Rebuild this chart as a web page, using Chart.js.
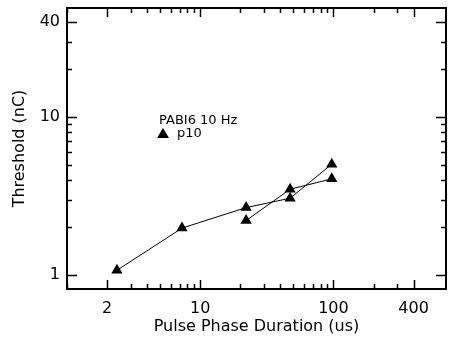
<!DOCTYPE html>
<html>
<head>
<meta charset="utf-8">
<script src="https://cdn.jsdelivr.net/npm/chart.js@4"></script>
<style>
  html, body { margin: 0; padding: 0; background: #fff; overflow: hidden; }
  #wrap { width: 449px; height: 339px; }
  canvas { display: block; }
</style>
</head>
<body>
<div id="wrap"><canvas id="chart" width="449" height="339"></canvas></div>
<script>
// values (log-log plot)
const upperX = [2.37, 7.3, 22.1, 47.3, 97.2];
const upperY = [1.07, 1.98, 2.67, 3.06, 5.03];
const lowerX = [22.1, 47.3, 97.2];
const lowerY = [2.21, 3.49, 4.06];

const xTicks = [1, 2, 3, 4, 5, 6, 7, 8, 9, 10, 20, 30, 40, 50, 60, 70, 80, 90, 100, 200, 300, 400];
const xMajor = [2, 10, 100, 400];
const yTicks = [1, 2, 3, 4, 5, 6, 7, 8, 9, 10, 20, 30, 40];
const yMajor = [1, 10, 40];

const legendTitle = 'PABI6 10 Hz';
const legendLabel = 'p10';

const FONT = '"DejaVu Sans", sans-serif';

function toPoints(xs, ys) {
    return xs.map((x, i) => ({ x, y: ys[i] }));
}

// no extra room for overflowing tick labels, the layout padding decides
function noOverflow(s) {
    s.paddingTop = 0;
    s.paddingBottom = 0;
    s.paddingLeft = 0;
    s.paddingRight = 0;
}

// frame + inward ticks on all four sides, plus the little legend
const framePlugin = {
    id: 'frame',
    afterDraw(chart) {
        const { ctx, chartArea: a, scales } = chart;
        ctx.save();
        ctx.strokeStyle = '#000';

        ctx.lineWidth = 1.5;
        xTicks.forEach(v => {
            const px = Math.round(scales.x.getPixelForValue(v)) + 0.5;
            const len = xMajor.includes(v) ? 9 : 5;
            ctx.beginPath();
            ctx.moveTo(px, a.bottom); ctx.lineTo(px, a.bottom - len);
            ctx.moveTo(px, a.top); ctx.lineTo(px, a.top + len);
            ctx.stroke();
        });
        yTicks.forEach(v => {
            const py = Math.round(scales.y.getPixelForValue(v)) + 0.5;
            const len = yMajor.includes(v) ? 10 : 5;
            ctx.beginPath();
            ctx.moveTo(a.left, py); ctx.lineTo(a.left + len, py);
            ctx.moveTo(a.right, py); ctx.lineTo(a.right - len, py);
            ctx.stroke();
        });

        ctx.lineWidth = 2;
        ctx.strokeRect(a.left, a.top, a.right - a.left, a.bottom - a.top);

        // legend block
        ctx.fillStyle = '#000';
        ctx.font = '13px ' + FONT;
        ctx.textBaseline = 'middle';
        ctx.textAlign = 'left';
        ctx.fillText(legendTitle, a.left + 92, a.top + 113);
        ctx.fillText(legendLabel, a.left + 110, a.top + 126);
        const tx = a.left + 96, ty = a.top + 126;
        ctx.beginPath();
        ctx.moveTo(tx, ty - 6);
        ctx.lineTo(tx + 6, ty + 4);
        ctx.lineTo(tx - 6, ty + 4);
        ctx.closePath();
        ctx.fill();
        ctx.restore();
    }
};

const lineStyle = {
    borderColor: '#000',
    backgroundColor: '#000',
    borderWidth: 1,
    pointStyle: 'triangle',
    pointRadius: 6.5,
    pointBorderWidth: 0,
    pointBackgroundColor: '#000',
    tension: 0,
    fill: false,
};

new Chart(document.getElementById('chart'), {
    type: 'line',
    data: {
        datasets: [
            { label: legendLabel, data: toPoints(upperX, upperY), ...lineStyle },
            { label: legendLabel + ' b', data: toPoints(lowerX, lowerY), ...lineStyle },
        ],
    },
    options: {
        responsive: false,
        animation: false,
        layout: { autoPadding: false, padding: { left: 0, top: 8, right: 3, bottom: 0 } },
        plugins: { legend: { display: false }, tooltip: { enabled: false } },
        scales: {
            x: {
                type: 'logarithmic',
                min: 1,
                max: 700,
                grid: { display: false, drawTicks: false },
                border: { display: false },
                afterBuildTicks: s => { s.ticks = xTicks.map(v => ({ value: v })); },
                afterFit: s => { s.height = 50; noOverflow(s); },
                ticks: {
                    autoSkip: false,
                    maxRotation: 0,
                    padding: 10,
                    color: '#000',
                    font: { family: FONT, size: 16 },
                    callback: v => xMajor.includes(v) ? String(v) : '',
                },
                title: {
                    display: true,
                    text: 'Pulse Phase Duration (us)',
                    color: '#000',
                    font: { family: FONT, size: 16 },
                    padding: { top: 0, bottom: 3 },
                },
            },
            y: {
                type: 'logarithmic',
                min: 0.815,
                max: 49,
                grid: { display: false, drawTicks: false },
                border: { display: false },
                afterBuildTicks: s => { s.ticks = yTicks.map(v => ({ value: v })); },
                afterFit: s => { s.width = 67; noOverflow(s); },
                ticks: {
                    autoSkip: false,
                    padding: 7,
                    color: '#000',
                    font: { family: FONT, size: 16 },
                    callback: v => yMajor.includes(v) ? String(v) : '',
                },
                title: {
                    display: true,
                    text: 'Threshold (nC)',
                    color: '#000',
                    font: { family: FONT, size: 16 },
                    padding: { top: 10, bottom: 0 },
                },
            },
        },
    },
    plugins: [framePlugin],
});
</script>
</body>
</html>
